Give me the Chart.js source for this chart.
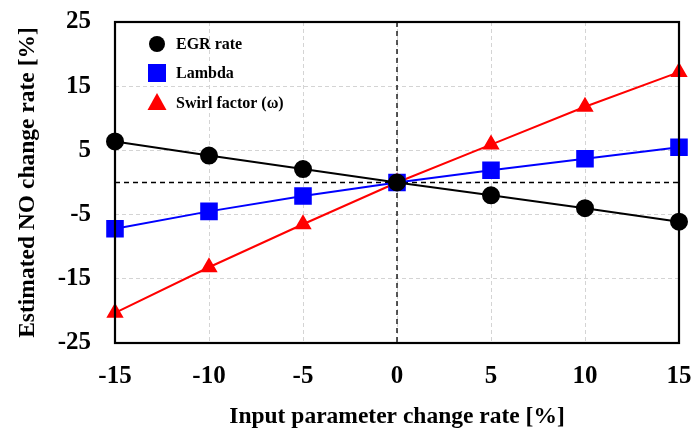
<!DOCTYPE html>
<html>
<head>
<meta charset="utf-8">
<script src="https://cdn.jsdelivr.net/npm/chart.js@4/dist/chart.umd.min.js"></script>
<style>
html,body{margin:0;padding:0;background:#fff;}
#wrap{width:694px;height:432px;}
</style>
</head>
<body>
<div id="wrap"><canvas id="c" width="694" height="432"></canvas></div>
<script>
const xValues = [-15, -10, -5, 0, 5, 10, 15];
const egrRate = [6.4, 4.2, 2.1, 0, -2.0, -4.0, -6.1];
const lambda = [-7.2, -4.5, -2.1, 0, 1.9, 3.7, 5.5];
const swirlFactor = [-20.3, -13.2, -6.5, 0, 5.9, 11.8, 17.2];
const seriesNames = ['EGR rate', 'Lambda', 'Swirl factor (\u03c9)'];
const xTitle = 'Input parameter change rate [%]';
const yTitle = 'Estimated NO change rate [%]';

const FONT = "'Liberation Serif', 'Times New Roman', serif";

function pts(arr){ return xValues.map((x,i)=>({x:x, y:arr[i]})); }

const framePlugin = {
  id: 'frame',
  beforeDatasetsDraw(chart){
    const {ctx, chartArea:a, scales} = chart;
    const x0 = scales.x.getPixelForValue(0);
    const y0 = scales.y.getPixelForValue(0);
    ctx.save();
    ctx.strokeStyle = '#000';
    ctx.lineWidth = 1.3;
    ctx.setLineDash([5,4]);
    ctx.beginPath();
    ctx.moveTo(x0, a.top); ctx.lineTo(x0, a.bottom);
    ctx.moveTo(a.left, y0); ctx.lineTo(a.right, y0);
    ctx.stroke();
    ctx.restore();
  },
  afterDraw(chart){
    const {ctx, chartArea:a} = chart;
    ctx.save();
    ctx.strokeStyle = '#000';
    ctx.lineWidth = 2.2;
    ctx.setLineDash([]);
    ctx.strokeRect(a.left, a.top, a.right - a.left, a.bottom - a.top);
    // legend
    const lx = a.left + 42, tx = a.left + 61;
    const rows = [a.top + 22, a.top + 51, a.top + 81];
    ctx.font = "bold 16px " + FONT;
    ctx.textBaseline = 'middle';
    ctx.textAlign = 'left';
    ctx.fillStyle = '#000';
    ctx.beginPath(); ctx.arc(lx, rows[0], 8, 0, Math.PI*2); ctx.fill();
    ctx.fillStyle = '#0000ff';
    ctx.fillRect(lx - 9, rows[1] - 9, 18, 18);
    ctx.fillStyle = '#ff0000';
    ctx.beginPath();
    ctx.moveTo(lx, rows[2] - 10);
    ctx.lineTo(lx + 9.5, rows[2] + 7);
    ctx.lineTo(lx - 9.5, rows[2] + 7);
    ctx.closePath(); ctx.fill();
    ctx.fillStyle = '#000';
    seriesNames.forEach((n,i)=>ctx.fillText(n, tx, rows[i] + 1));
    ctx.restore();
  }
};

const common = {showLine: true, borderWidth: 2, clip: false};

new Chart(document.getElementById('c'), {
  type: 'scatter',
  data: {
    datasets: [
      Object.assign({label: seriesNames[0], data: pts(egrRate), borderColor: '#000', backgroundColor: '#000',
       pointStyle: 'circle', pointRadius: 8, pointHoverRadius: 8}, common),
      Object.assign({label: seriesNames[1], data: pts(lambda), borderColor: '#0000ff', backgroundColor: '#0000ff',
       pointStyle: 'rect', pointRadius: 11, pointHoverRadius: 11}, common),
      Object.assign({label: seriesNames[2], data: pts(swirlFactor), borderColor: '#ff0000', backgroundColor: '#ff0000',
       pointStyle: 'triangle', pointRadius: 8, pointHoverRadius: 8}, common)
    ]
  },
  options: {
    responsive: false,
    animation: false,
    devicePixelRatio: 1,
    layout: {padding: {top: 22, right: 15, left: 0, bottom: 0}},
    plugins: {legend: {display: false}, tooltip: {enabled: false}},
    scales: {
      x: {
        type: 'linear', min: -15, max: 15,
        ticks: {stepSize: 5, padding: 19, color: '#000', font: {family: FONT, size: 25, weight: 'bold'}},
        grid: {color: '#d4d4d4', lineWidth: 1, drawTicks: false},
        border: {display: false, dash: [4,3]},
        title: {display: true, text: xTitle, color: '#000', font: {family: FONT, size: 23.5, weight: 'bold'}, padding: {top: 0, bottom: 1}},
        afterFit(s){ s.height = 89; s.paddingLeft = 0; s.paddingRight = 0; }
      },
      y: {
        type: 'linear', min: -25, max: 25,
        ticks: {stepSize: 10, padding: 24, color: '#000', font: {family: FONT, size: 25, weight: 'bold'}},
        grid: {color: '#d4d4d4', lineWidth: 1, drawTicks: false},
        border: {display: false, dash: [4,3]},
        title: {display: true, text: yTitle, color: '#000', font: {family: FONT, size: 23.5, weight: 'bold'}, padding: {top: 14, bottom: 0}},
        afterFit(s){ s.width = 115; s.paddingTop = 0; s.paddingBottom = 0; }
      }
    }
  },
  plugins: [framePlugin]
});
</script>
</body>
</html>
